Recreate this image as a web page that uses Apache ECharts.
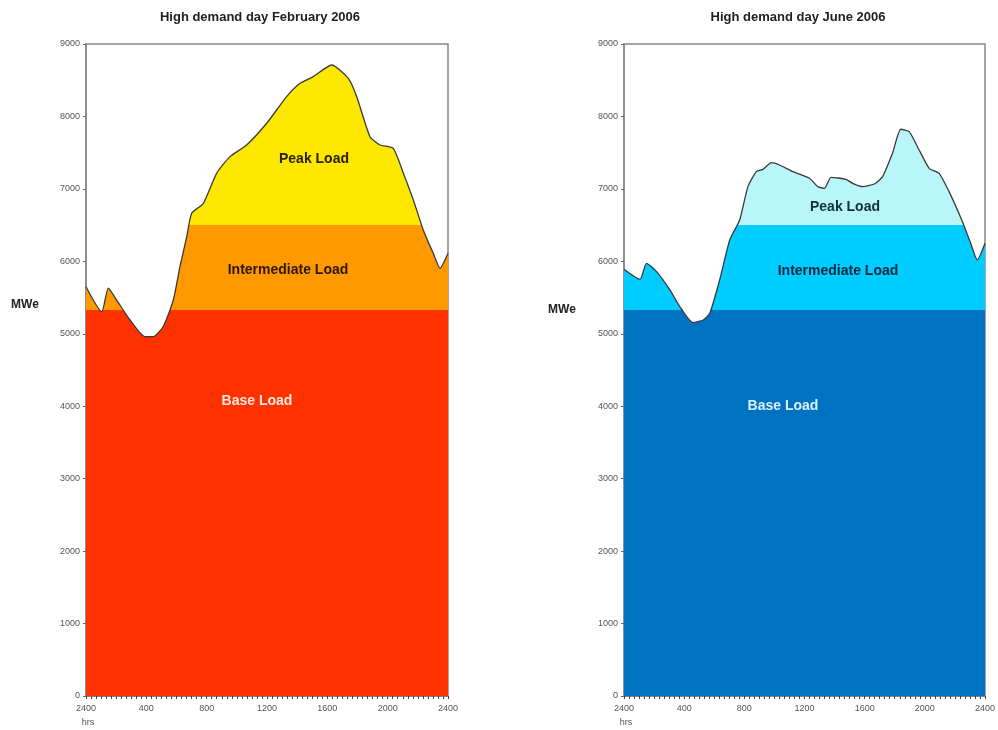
<!DOCTYPE html>
<html>
<head>
<meta charset="utf-8">
<script src="https://cdn.jsdelivr.net/npm/echarts@6/dist/echarts.min.js"></script>
<style>html,body{margin:0;padding:0;background:#fff}#c{width:998px;height:730px}</style>
</head>
<body>
<div id="c"></div>
<script>
// February 2006 demand curve (hours, MWe)
const febHours = [0, 1.04, 1.48, 2.03, 2.92, 3.91, 4.46, 5.12, 5.79, 6.23, 6.68, 7.01, 7.78, 8.66, 9.55, 10.65, 11.98, 13.3, 14.19, 15.07, 16.29, 17.39, 17.95, 18.83, 19.49, 20.37, 21.04, 21.7, 22.36, 23.02, 23.47, 24];
const febLoad = [5650, 5305, 5630, 5466, 5190, 4960, 4960, 5100, 5466, 5926, 6340, 6663, 6800, 7215, 7445, 7606, 7906, 8273, 8457, 8550, 8710, 8526, 8273, 7720, 7606, 7560, 7215, 6847, 6433, 6111, 5904, 6111];
// June 2006 demand curve (hours, MWe)
const junHours = [0, 1.06, 1.5, 2.17, 3.05, 3.71, 4.59, 5.26, 5.7, 6.36, 7.03, 7.69, 8.24, 8.8, 9.24, 9.79, 10.34, 11.22, 12.33, 12.88, 13.33, 13.77, 14.76, 15.2, 15.87, 16.64, 17.19, 17.85, 18.41, 18.96, 19.62, 20.29, 20.95, 21.61, 22.5, 23.05, 23.49, 24];
const junLoad = [5890, 5752, 5973, 5857, 5605, 5374, 5153, 5190, 5283, 5743, 6295, 6571, 7031, 7238, 7270, 7362, 7330, 7238, 7146, 7031, 7008, 7160, 7132, 7077, 7031, 7068, 7169, 7491, 7823, 7790, 7537, 7284, 7215, 6962, 6548, 6249, 6019, 6249];
// Load band thresholds (MWe)
const baseLevel = 5330;
const intermediateLevel = 6500;
const titles = ['High demand day February 2006', 'High demand day June 2006'];
const xTickHours = [0, 4, 8, 12, 16, 20, 24];
const xTickLabels = ['2400', '400', '800', '1200', '1600', '2000', '2400'];

const chart = echarts.init(document.getElementById('c'));
const grids = [
  {left: 86, width: 362, top: 44, height: 652},
  {left: 624, width: 362, top: 44, height: 652}
];
function xAxis(i) {
  return {
    type: 'value', gridIndex: i, min: 0, max: 24, interval: 4,
    axisLine: {show: true, lineStyle: {color: '#888', width: 1}},
    axisTick: {show: true, length: 3, lineStyle: {color: '#444'}},
    minorTick: {show: true, splitNumber: 12, length: 3, lineStyle: {color: '#444'}},
    splitLine: {show: false},
    axisLabel: {
      color: '#555', fontSize: 9, fontFamily: 'Liberation Sans, Arial', margin: 8,
      formatter: v => { const k = xTickHours.indexOf(v); return k >= 0 ? xTickLabels[k] : ''; }
    }
  };
}
function yAxis(i) {
  return {
    type: 'value', gridIndex: i, min: 0, max: 9000, interval: 1000,
    axisLine: {show: true, lineStyle: {color: '#888', width: 1.5}},
    axisTick: {show: true, length: 3, lineStyle: {color: '#666'}},
    splitLine: {show: false},
    axisLabel: {color: '#555', fontSize: 9, fontFamily: 'Liberation Sans, Arial', margin: 6, formatter: v => String(v)}
  };
}
function loadSeries(i, hours, load) {
  return {
    type: 'line', xAxisIndex: i, yAxisIndex: i,
    data: hours.map((h, k) => [h, load[k]]),
    symbol: 'none', smooth: 0.2,
    lineStyle: {color: '#3a3a3a', width: 1.3},
    areaStyle: {opacity: 1},
    z: 2
  };
}
function bands(i, c1, c2, c3) {
  return {
    type: 'piecewise', show: false, seriesIndex: i, dimension: 1,
    pieces: [
      {lt: baseLevel, color: c1},
      {gte: baseLevel, lt: intermediateLevel, color: c2},
      {gte: intermediateLevel, color: c3}
    ]
  };
}
const labelFont = 'bold 14px "Liberation Sans", Arial, sans-serif';
function ctext(cx, cy, s, color, font) {
  return {type: 'text', x: cx, y: cy, style: {text: s, fill: color, font: font || labelFont, align: 'center', verticalAlign: 'middle'}, z: 10};
}
const titleFont = 'bold 13px "Liberation Sans", Arial, sans-serif';
const smallFont = '9px "Liberation Sans", Arial, sans-serif';
chart.setOption({
  animation: false,
  grid: grids.map(g => Object.assign({show: true, borderColor: '#888', borderWidth: 1.5, backgroundColor: 'transparent'}, g)),
  xAxis: [xAxis(0), xAxis(1)],
  yAxis: [yAxis(0), yAxis(1)],
  visualMap: [
    bands(0, '#FF3300', '#FF9900', '#FFE800'),
    bands(1, '#0072C2', '#00CCFF', '#B8F6FA')
  ],
  series: [loadSeries(0, febHours, febLoad), loadSeries(1, junHours, junLoad)],
  graphic: [
    ctext(260, 17, titles[0], '#222', titleFont),
    ctext(798, 17, titles[1], '#222', titleFont),
    ctext(25, 305, 'MWe', '#222', 'bold 12px "Liberation Sans", Arial, sans-serif'),
    ctext(562, 310, 'MWe', '#222', 'bold 12px "Liberation Sans", Arial, sans-serif'),
    ctext(88, 723, 'hrs', '#555', smallFont),
    ctext(626, 723, 'hrs', '#555', smallFont),
    ctext(314, 159, 'Peak Load', '#2a2000'),
    ctext(288, 270, 'Intermediate Load', '#2a1500'),
    ctext(257, 401, 'Base Load', '#FFE6DC'),
    ctext(845, 207, 'Peak Load', '#10303a'),
    ctext(838, 271, 'Intermediate Load', '#0a2a40'),
    ctext(783, 406, 'Base Load', '#D8F0FF')
  ]
});
</script>
</body>
</html>
